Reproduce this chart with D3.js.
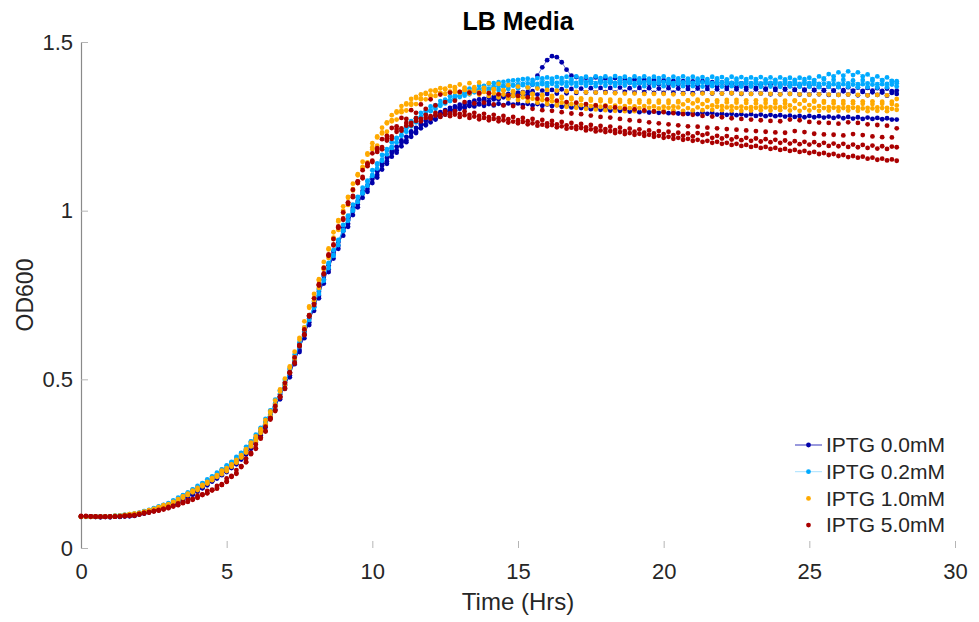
<!DOCTYPE html>
<html>
<head>
<meta charset="utf-8">
<script src="https://cdn.jsdelivr.net/npm/d3@7"></script>
<style>
  html, body { margin: 0; padding: 0; background: #fff; }
  svg { display: block; font-family: "Liberation Sans", Arial, Helvetica, sans-serif; }
</style>
</head>
<body>
<svg id="chart" width="979" height="622"></svg>
<script>
// Sampling grid: plate reader read every 10 min, 0 to 28 h (169 reads)
const hours = d3.range(169).map(i => i / 6);

const conditions = ["IPTG 0.0mM", "IPTG 0.2mM", "IPTG 1.0mM", "IPTG 5.0mM"];
const colors = ["#0000aa", "#00aaff", "#ffaa00", "#aa0000"];

const xTicks = [0, 5, 10, 15, 20, 25, 30];
const yTicks = [0, 0.5, 1, 1.5];

// OD600 replicates, IPTG 0.0 mM (one row per hour)
const iptg00_a = [
  .093,.094,.092,.093,.092,.093, .092,.094,.093,.095,.095,.097, .101,.103,.108,.110,.116,.118,
  .127,.130,.140,.144,.155,.158, .173,.177,.193,.197,.213,.216, .234,.237,.258,.262,.287,.294,
  .326,.334,.372,.384,.427,.441, .490,.506,.563,.581,.642,.661, .725,.740,.806,.818,.879,.887,
  .948,.952,1.008,1.010,1.058,1.056, 1.102,1.098,1.141,1.139,1.177,1.172, 1.208,1.203,1.235,1.230,1.258,1.253,
  1.277,1.270,1.292,1.285,1.305,1.297, 1.314,1.306,1.322,1.318,1.330,1.325, 1.336,1.330,1.342,1.336,1.346,1.340,
  1.350,1.345,1.352,1.374,1.400,1.425, 1.446,1.458,1.455,1.440,1.418,1.400, 1.396,1.385,1.394,1.383,1.395,1.384,
  1.392,1.381,1.393,1.380,1.390,1.379, 1.389,1.377,1.388,1.376,1.387,1.375, 1.386,1.374,1.385,1.373,1.384,1.372,
  1.383,1.371,1.384,1.370,1.381,1.369, 1.380,1.368,1.378,1.366,1.377,1.365, 1.376,1.364,1.375,1.362,1.374,1.362,
  1.373,1.361,1.372,1.359,1.371,1.359, 1.370,1.357,1.369,1.356,1.368,1.356, 1.367,1.354,1.366,1.353,1.365,1.352,
  1.364,1.351,1.363,1.350,1.362,1.349, 1.356
];
const iptg00_b = [
  .092,.093,.093,.092,.091,.092, .093,.093,.092,.094,.096,.095, .099,.104,.106,.112,.114,.120,
  .123,.132,.136,.147,.150,.162, .167,.181,.186,.201,.206,.222, .225,.243,.248,.270,.277,.302,
  .312,.346,.358,.396,.411,.455, .472,.522,.545,.598,.622,.680, .703,.760,.784,.838,.858,.907,
  .926,.972,.987,1.029,1.038,1.075, 1.082,1.117,1.122,1.157,1.160,1.190, 1.191,1.219,1.219,1.245,1.244,1.267,
  1.262,1.283,1.279,1.298,1.292,1.309, 1.302,1.316,1.310,1.326,1.318,1.331, 1.324,1.338,1.330,1.343,1.334,1.347,
  1.338,1.351,1.341,1.354,1.344,1.356, 1.346,1.358,1.347,1.360,1.348,1.361, 1.349,1.362,1.350,1.363,1.350,1.364,
  1.351,1.364,1.350,1.365,1.352,1.363, 1.350,1.364,1.351,1.363,1.349,1.362, 1.349,1.363,1.350,1.362,1.348,1.361,
  1.348,1.362,1.349,1.361,1.347,1.360, 1.347,1.361,1.348,1.360,1.346,1.359, 1.346,1.360,1.347,1.359,1.345,1.358,
  1.345,1.359,1.346,1.358,1.344,1.357, 1.344,1.358,1.345,1.357,1.343,1.356, 1.343,1.357,1.344,1.356,1.342,1.355,
  1.342,1.356,1.343,1.355,1.341,1.354, 1.346
];
const iptg00_c = [
  .094,.093,.093,.092,.092,.092, .091,.093,.093,.094,.094,.096, .101,.102,.108,.110,.116,.118,
  .126,.130,.139,.144,.153,.159, .171,.178,.190,.198,.210,.218, .230,.239,.253,.265,.282,.297,
  .320,.338,.366,.388,.420,.446, .483,.512,.555,.587,.633,.669, .716,.748,.796,.826,.870,.896,
  .939,.961,.999,1.018,1.050,1.064, 1.094,1.106,1.134,1.146,1.171,1.179, 1.202,1.208,1.230,1.234,1.254,1.256,
  1.272,1.272,1.288,1.287,1.301,1.298, 1.308,1.305,1.313,1.309,1.315,1.311, 1.316,1.312,1.317,1.313,1.318,1.314,
  1.318,1.313,1.317,1.312,1.316,1.311, 1.315,1.310,1.313,1.308,1.311,1.306, 1.309,1.304,1.306,1.301,1.304,1.299,
  1.302,1.297,1.300,1.296,1.299,1.294, 1.297,1.292,1.295,1.291,1.294,1.290, 1.293,1.289,1.292,1.288,1.291,1.287,
  1.290,1.286,1.291,1.287,1.290,1.285, 1.288,1.284,1.287,1.283,1.286,1.282, 1.286,1.281,1.285,1.280,1.284,1.280,
  1.283,1.279,1.282,1.278,1.281,1.277, 1.281,1.277,1.280,1.276,1.279,1.275, 1.279,1.274,1.278,1.273,1.277,1.272,
  1.276,1.272,1.275,1.271,1.274,1.270, 1.270
];

// OD600 replicates, IPTG 0.2 mM
const iptg02_a = [
  .093,.092,.093,.094,.093,.094, .094,.096,.096,.098,.099,.102, .105,.107,.113,.116,.123,.126,
  .133,.137,.149,.153,.165,.170, .184,.188,.203,.208,.223,.229, .245,.251,.270,.278,.300,.311,
  .336,.348,.383,.398,.440,.457, .498,.520,.573,.597,.653,.676, .730,.753,.810,.830,.883,.898,
  .958,.970,1.018,1.026,1.068,1.074, 1.120,1.125,1.165,1.167,1.203,1.202, 1.237,1.234,1.265,1.262,1.290,1.284,
  1.309,1.302,1.325,1.318,1.339,1.330, 1.351,1.341,1.362,1.351,1.370,1.358, 1.376,1.364,1.381,1.369,1.385,1.372,
  1.388,1.376,1.391,1.378,1.393,1.380, 1.395,1.381,1.396,1.382,1.397,1.382, 1.398,1.383,1.397,1.384,1.398,1.383,
  1.398,1.384,1.399,1.383,1.397,1.384, 1.398,1.383,1.398,1.384,1.397,1.383, 1.398,1.382,1.397,1.383,1.398,1.382,
  1.397,1.383,1.396,1.382,1.397,1.381, 1.396,1.382,1.397,1.381,1.396,1.382, 1.395,1.381,1.396,1.380,1.395,1.381,
  1.395,1.380,1.394,1.381,1.394,1.380, 1.394,1.381,1.398,1.392,1.405,1.398, 1.410,1.400,1.413,1.402,1.410,1.398,
  1.404,1.390,1.398,1.386,1.395,1.383, 1.384
];
const iptg02_b = [
  .092,.093,.094,.093,.094,.093, .094,.094,.097,.096,.100,.100, .103,.109,.111,.118,.121,.128,
  .129,.141,.145,.157,.161,.174, .178,.192,.197,.212,.217,.233, .238,.255,.263,.282,.293,.316,
  .325,.356,.370,.408,.425,.468, .482,.532,.556,.610,.635,.690, .712,.768,.792,.845,.866,.913,
  .940,.985,1.000,1.041,1.051,1.089, 1.103,1.140,1.148,1.182,1.186,1.216, 1.222,1.248,1.250,1.275,1.276,1.296,
  1.295,1.313,1.311,1.329,1.325,1.340, 1.337,1.350,1.345,1.357,1.351,1.362, 1.355,1.366,1.358,1.369,1.361,1.371,
  1.363,1.372,1.365,1.374,1.366,1.375, 1.367,1.376,1.368,1.377,1.369,1.377, 1.369,1.378,1.370,1.378,1.369,1.379,
  1.370,1.379,1.370,1.378,1.371,1.379, 1.370,1.378,1.369,1.379,1.370,1.378, 1.369,1.378,1.370,1.377,1.369,1.378,
  1.369,1.377,1.368,1.378,1.369,1.377, 1.368,1.377,1.369,1.376,1.368,1.377, 1.368,1.376,1.367,1.377,1.368,1.376,
  1.367,1.376,1.368,1.375,1.367,1.376, 1.367,1.375,1.366,1.376,1.367,1.375, 1.366,1.375,1.367,1.374,1.366,1.375,
  1.366,1.374,1.365,1.375,1.366,1.374, 1.368
];
const iptg02_c = [
  .094,.093,.093,.092,.093,.094, .094,.095,.095,.098,.098,.101, .103,.108,.110,.117,.120,.127,
  .130,.139,.145,.156,.161,.173, .179,.191,.198,.211,.218,.232, .239,.254,.264,.281,.294,.315,
  .326,.354,.372,.405,.428,.466, .485,.529,.559,.606,.638,.686, .714,.765,.795,.842,.868,.910,
  .942,.982,1.004,1.038,1.054,1.086, 1.106,1.137,1.151,1.179,1.189,1.213, 1.224,1.245,1.253,1.272,1.278,1.293,
  1.297,1.310,1.314,1.326,1.327,1.337, 1.340,1.347,1.350,1.360,1.358,1.370, 1.362,1.378,1.368,1.382,1.371,1.386,
  1.374,1.390,1.377,1.388,1.376,1.392, 1.378,1.391,1.379,1.393,1.380,1.390, 1.379,1.392,1.381,1.390,1.378,1.393,
  1.380,1.391,1.379,1.393,1.381,1.390, 1.378,1.392,1.380,1.391,1.379,1.393, 1.381,1.390,1.378,1.392,1.380,1.391,
  1.379,1.391,1.380,1.390,1.378,1.392, 1.380,1.389,1.379,1.391,1.377,1.390, 1.378,1.390,1.377,1.389,1.379,1.388,
  1.377,1.389,1.378,1.388,1.376,1.390, 1.378,1.387,1.376,1.389,1.377,1.388, 1.376,1.388,1.377,1.386,1.375,1.387,
  1.377,1.386,1.375,1.387,1.376,1.385, 1.378
];

// OD600 replicates, IPTG 1.0 mM
const iptg10_a = [
  .094,.093,.092,.093,.093,.094, .093,.095,.095,.098,.099,.102, .104,.106,.112,.114,.121,.123,
  .130,.134,.145,.149,.161,.165, .178,.183,.196,.201,.216,.219, .237,.241,.261,.268,.293,.301,
  .331,.341,.379,.390,.437,.448, .502,.520,.582,.600,.672,.690, .753,.771,.848,.860,.936,.943,
  1.013,1.017,1.080,1.082,1.145,1.143, 1.200,1.193,1.246,1.234,1.283,1.270, 1.310,1.297,1.331,1.316,1.345,1.330,
  1.356,1.340,1.363,1.346,1.369,1.352, 1.374,1.358,1.378,1.361,1.380,1.362, 1.378,1.360,1.376,1.357,1.372,1.354,
  1.368,1.350,1.365,1.346,1.362,1.343, 1.358,1.340,1.356,1.337,1.354,1.335, 1.352,1.333,1.351,1.331,1.350,1.330,
  1.349,1.329,1.348,1.328,1.347,1.327, 1.347,1.327,1.346,1.326,1.346,1.326, 1.346,1.326,1.345,1.325,1.346,1.326,
  1.345,1.325,1.347,1.327,1.348,1.327, 1.347,1.328,1.348,1.328,1.347,1.327, 1.346,1.327,1.347,1.328,1.346,1.326,
  1.345,1.326,1.346,1.327,1.345,1.326, 1.344,1.326,1.345,1.325,1.344,1.325, 1.343,1.325,1.344,1.324,1.343,1.324,
  1.342,1.324,1.343,1.323,1.342,1.323, 1.331
];
const iptg10_b = [
  .093,.094,.093,.092,.093,.093, .094,.093,.096,.096,.100,.100, .103,.108,.110,.116,.119,.127,
  .126,.137,.141,.153,.157,.170, .172,.187,.191,.207,.211,.229, .228,.248,.253,.275,.283,.312,
  .316,.352,.364,.405,.419,.470, .483,.538,.560,.623,.648,.716, .733,.797,.826,.888,.916,.972,
  .993,1.041,1.060,1.108,1.126,1.170, 1.182,1.220,1.229,1.262,1.265,1.294, 1.292,1.318,1.314,1.337,1.330,1.349,
  1.340,1.357,1.348,1.362,1.353,1.366, 1.352,1.365,1.353,1.366,1.351,1.364, 1.349,1.360,1.345,1.356,1.341,1.352,
  1.337,1.348,1.333,1.344,1.329,1.340, 1.326,1.336,1.322,1.333,1.319,1.330, 1.317,1.328,1.315,1.326,1.313,1.324,
  1.312,1.323,1.311,1.322,1.310,1.321, 1.309,1.320,1.310,1.321,1.309,1.320, 1.308,1.319,1.309,1.321,1.315,1.327,
  1.318,1.329,1.316,1.326,1.312,1.322, 1.310,1.321,1.309,1.320,1.308,1.319, 1.307,1.318,1.308,1.319,1.307,1.318,
  1.307,1.318,1.312,1.325,1.316,1.327, 1.313,1.323,1.310,1.320,1.307,1.318, 1.306,1.317,1.307,1.318,1.306,1.317,
  1.305,1.316,1.306,1.317,1.305,1.316, 1.312
];
const iptg10_c = [
  .092,.093,.093,.094,.092,.093, .092,.095,.094,.097,.098,.101, .102,.107,.111,.115,.121,.124,
  .127,.136,.142,.152,.158,.168, .174,.185,.193,.205,.213,.226, .232,.246,.255,.273,.286,.308,
  .322,.348,.368,.400,.425,.464, .489,.534,.566,.618,.654,.712, .740,.793,.832,.885,.920,.968,
  1.000,1.038,1.064,1.105,1.130,1.166, 1.188,1.217,1.232,1.259,1.268,1.291, 1.297,1.315,1.318,1.334,1.333,1.346,
  1.342,1.354,1.349,1.359,1.352,1.361, 1.350,1.358,1.347,1.355,1.344,1.352, 1.340,1.348,1.336,1.344,1.332,1.340,
  1.328,1.336,1.324,1.332,1.320,1.328, 1.316,1.324,1.312,1.320,1.308,1.316, 1.305,1.313,1.302,1.310,1.300,1.308,
  1.298,1.306,1.296,1.305,1.295,1.304, 1.295,1.304,1.296,1.305,1.295,1.303, 1.296,1.305,1.297,1.306,1.296,1.304,
  1.297,1.306,1.298,1.307,1.299,1.308, 1.298,1.306,1.297,1.305,1.296,1.304, 1.297,1.305,1.298,1.306,1.297,1.305,
  1.298,1.306,1.297,1.304,1.296,1.305, 1.297,1.305,1.296,1.304,1.297,1.305, 1.296,1.304,1.297,1.305,1.296,1.303,
  1.295,1.303,1.296,1.304,1.295,1.302, 1.299
];

// OD600 replicates, IPTG 5.0 mM
const iptg50_a = [
  .095,.094,.094,.093,.093,.093, .093,.094,.094,.096,.096,.098, .101,.104,.107,.110,.113,.116,
  .122,.125,.132,.135,.142,.145, .155,.158,.169,.171,.184,.187, .206,.212,.231,.242,.265,.281,
  .307,.327,.360,.385,.421,.449, .489,.520,.565,.600,.648,.688, .740,.780,.830,.868,.916,.951,
  .995,1.024,1.062,1.087,1.120,1.140, 1.170,1.185,1.212,1.222,1.245,1.250, 1.275,1.272,1.298,1.290,1.315,1.302,
  1.330,1.312,1.344,1.322,1.350,1.326, 1.352,1.322,1.350,1.318,1.348,1.320, 1.348,1.315,1.345,1.312,1.342,1.310,
  1.340,1.306,1.336,1.302,1.332,1.298, 1.330,1.296,1.326,1.292,1.322,1.288, 1.320,1.286,1.316,1.282,1.312,1.278,
  1.310,1.276,1.306,1.272,1.302,1.268, 1.300,1.266,1.297,1.262,1.294,1.259, 1.292,1.256,1.289,1.253,1.286,1.250,
  1.284,1.249,1.281,1.246,1.279,1.244, 1.277,1.242,1.274,1.240,1.272,1.238, 1.270,1.236,1.268,1.234,1.266,1.232,
  1.265,1.231,1.270,1.236,1.268,1.233, 1.263,1.228,1.261,1.226,1.260,1.225, 1.258,1.223,1.262,1.227,1.260,1.224,
  1.256,1.220,1.254,1.218,1.252,1.217, 1.244
];
const iptg50_b = [
  .094,.095,.093,.093,.092,.093, .094,.093,.094,.095,.097,.096, .100,.104,.105,.110,.111,.116,
  .119,.125,.128,.135,.138,.145, .150,.159,.163,.173,.178,.189, .198,.214,.222,.243,.256,.282,
  .296,.328,.347,.385,.408,.450, .475,.521,.550,.602,.634,.690, .723,.782,.814,.870,.900,.953,
  .977,1.024,1.044,1.086,1.100,1.137, 1.148,1.180,1.188,1.215,1.220,1.242, 1.244,1.260,1.260,1.274,1.272,1.284,
  1.280,1.290,1.285,1.294,1.288,1.295, 1.287,1.294,1.284,1.290,1.281,1.287, 1.277,1.284,1.274,1.281,1.271,1.278,
  1.268,1.275,1.265,1.272,1.262,1.269, 1.259,1.266,1.256,1.263,1.253,1.260, 1.250,1.257,1.247,1.254,1.244,1.251,
  1.242,1.249,1.239,1.246,1.236,1.243, 1.234,1.241,1.231,1.238,1.229,1.236, 1.227,1.234,1.224,1.231,1.222,1.229,
  1.220,1.230,1.224,1.228,1.216,1.222, 1.214,1.221,1.211,1.218,1.209,1.216, 1.207,1.214,1.205,1.212,1.203,1.210,
  1.201,1.208,1.199,1.206,1.197,1.204, 1.196,1.203,1.194,1.201,1.192,1.199, 1.191,1.198,1.189,1.196,1.188,1.195,
  1.186,1.193,1.184,1.191,1.183,1.190, 1.188
];
const iptg50_c = [
  .093,.094,.094,.093,.093,.092, .092,.093,.094,.094,.095,.096, .099,.102,.105,.108,.111,.114,
  .118,.123,.127,.133,.137,.143, .149,.157,.162,.171,.176,.187, .196,.211,.220,.240,.254,.278,
  .294,.324,.345,.381,.406,.446, .472,.518,.547,.598,.631,.686, .720,.778,.811,.866,.897,.949,
  .973,1.020,1.040,1.082,1.096,1.132, 1.144,1.174,1.182,1.208,1.213,1.234, 1.237,1.252,1.253,1.266,1.265,1.275,
  1.273,1.282,1.278,1.285,1.280,1.285, 1.278,1.283,1.275,1.279,1.271,1.275, 1.268,1.272,1.265,1.268,1.261,1.264,
  1.259,1.263,1.256,1.259,1.252,1.255, 1.250,1.254,1.247,1.250,1.243,1.246, 1.242,1.245,1.238,1.241,1.235,1.238,
  1.233,1.236,1.230,1.233,1.227,1.230, 1.225,1.228,1.222,1.225,1.219,1.222, 1.216,1.219,1.213,1.216,1.210,1.213,
  1.207,1.210,1.204,1.207,1.201,1.204, 1.198,1.201,1.195,1.198,1.192,1.195, 1.189,1.192,1.186,1.189,1.183,1.186,
  1.180,1.183,1.177,1.180,1.174,1.177, 1.171,1.174,1.168,1.171,1.165,1.168, 1.162,1.165,1.159,1.162,1.157,1.160,
  1.154,1.157,1.151,1.154,1.149,1.152, 1.148
];

// Which conditions are drawn with a connecting line as well as markers
const drawLine = [true, true, false, false];

const groups = [
  [iptg00_a, iptg00_b, iptg00_c],
  [iptg02_a, iptg02_b, iptg02_c],
  [iptg10_a, iptg10_b, iptg10_c],
  [iptg50_a, iptg50_b, iptg50_c]
];

const svg = d3.select("#chart");
const margin = { left: 81, right: 24, top: 42, bottom: 74 };
const W = 979, H = 622;

const x = d3.scaleLinear().domain([0, 30]).range([margin.left, W - margin.right]);
const y = d3.scaleLinear().domain([0, 1.5]).range([H - margin.bottom, margin.top]);

const axisColor = "#8a8a8a";
const textColor = "#262626";

// Axes: inward ticks, MATLAB style
const xAxis = svg.append("g")
  .attr("transform", `translate(0,${y(0)})`)
  .call(d3.axisBottom(x).tickValues(xTicks).tickFormat(d3.format("d"))
    .tickSizeInner(-7).tickSizeOuter(0).tickPadding(15));
xAxis.select(".domain").remove();

const yAxis = svg.append("g")
  .attr("transform", `translate(${x(0)},0)`)
  .call(d3.axisLeft(y).tickValues(yTicks).tickFormat(d => d === 0 ? "0" : d3.format("")(d))
    .tickSizeInner(-7).tickSizeOuter(0).tickPadding(8));
yAxis.select(".domain").attr("stroke", axisColor).attr("stroke-width", 1.2);

svg.selectAll(".tick line").attr("stroke", "#b5b5b5").attr("stroke-width", 1);
svg.selectAll(".tick text")
  .attr("fill", textColor)
  .style("font-size", "22px")
  .style("font-family", "'Liberation Sans', Arial, sans-serif");

// Curves
const plot = svg.append("g");
const line = d3.line().x((d, i) => x(hours[i])).y(d => y(d));

groups.forEach((reps, gi) => {
  const g = plot.append("g");
  reps.forEach(vals => {
    if (drawLine[gi]) {
      g.append("path")
        .datum(vals)
        .attr("d", line)
        .attr("fill", "none")
        .attr("stroke", colors[gi])
        .attr("stroke-width", 0.9)
        .attr("stroke-opacity", 0.6);
    }
    g.selectAll(null)
      .data(vals)
      .join("circle")
      .attr("cx", (d, i) => x(hours[i]))
      .attr("cy", d => y(d))
      .attr("r", 2.4)
      .attr("fill", colors[gi]);
  });
});

// Title and axis labels
svg.append("text")
  .attr("x", (x(0) + x(30)) / 2).attr("y", 30)
  .attr("text-anchor", "middle")
  .attr("fill", "#000")
  .style("font-size", "25px").style("font-weight", "bold")
  .text("LB Media");

svg.append("text")
  .attr("x", (x(0) + x(30)) / 2).attr("y", 610)
  .attr("text-anchor", "middle")
  .attr("fill", textColor)
  .style("font-size", "24px")
  .text("Time (Hrs)");

svg.append("text")
  .attr("transform", `translate(33,${(y(0) + y(1.5)) / 2}) rotate(-90)`)
  .attr("text-anchor", "middle")
  .attr("fill", textColor)
  .style("font-size", "23px")
  .text("OD600");

// Legend
const legend = svg.append("g").attr("transform", "translate(795,445)");
conditions.forEach((name, i) => {
  const row = legend.append("g").attr("transform", `translate(0,${i * 26.7})`);
  if (drawLine[i]) {
    row.append("line").attr("x1", 0).attr("x2", 27).attr("y1", 0).attr("y2", 0)
      .attr("stroke", colors[i]).attr("stroke-width", 1).attr("stroke-opacity", i === 1 ? 0.35 : 0.8);
  }
  row.append("circle").attr("cx", 13.5).attr("cy", 0).attr("r", 2.4).attr("fill", colors[i]);
  row.append("text").attr("x", 31).attr("y", 0).attr("dy", "0.35em")
    .attr("fill", textColor).style("font-size", "21px").text(name);
});
</script>
</body>
</html>
